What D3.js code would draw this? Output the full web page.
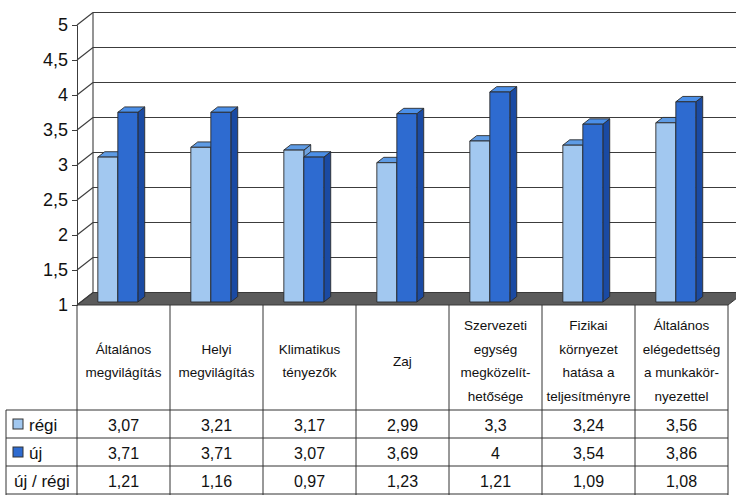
<!DOCTYPE html>
<html><head><meta charset="utf-8">
<script src="https://cdn.jsdelivr.net/npm/d3@7"></script>
<style>
html,body{margin:0;padding:0;background:#fff;}
svg{display:block;font-family:"Liberation Sans",Arial,Helvetica,sans-serif;}
</style></head>
<body><svg id="c" width="736" height="495"></svg>
<script>
const categories = [
  ["Általános","megvilágítás"],
  ["Helyi","megvilágítás"],
  ["Klimatikus","tényezők"],
  ["Zaj"],
  ["Szervezeti","egység","megközelít-","hetősége"],
  ["Fizikai","környezet","hatása a","teljesítményre"],
  ["Általános","elégedettség","a munkakör-","nyezettel"]
];
const regi  = [3.07, 3.21, 3.17, 2.99, 3.3, 3.24, 3.56];
const uj    = [3.71, 3.71, 3.07, 3.69, 4, 3.54, 3.86];
const ratio = [1.21, 1.16, 0.97, 1.23, 1.21, 1.09, 1.08];
const seriesNames = ["régi", "új"];
const rowLabels = ["régi", "új", "új / régi"];
const yTicks = [1, 1.5, 2, 2.5, 3, 3.5, 4, 4.5, 5];

(function(){
const fmt = v => String(v).replace(".", ",");
const svg = d3.select("#c");

// layout
const pLeft = 77, pRight = 728, pTop = 25, pBottom = 305;
const depthX = 16, depthY = -12.5;          // back wall offset
const barDepthStart = 0.24, barDepthEnd = 0.67;

const y = d3.scaleLinear().domain([1, 5]).range([pBottom, pTop]);
const idx = d3.range(categories.length);
const x = d3.scaleBand().domain(idx).range([pLeft, pRight]).padding(0);
const xs = d3.scaleBand().domain(seriesNames).range([0, 40]);

const colors = {
  "régi": {front:"#a2c8f0", side:"#6fa3e0", top:"#5e9be4"},
  "új":   {front:"#2e6bd0", side:"#1a4aa3", top:"#4b8fe8"}
};
const stroke = "#2a2a2a";

// floor
const fl = [[pLeft, pBottom],[pRight, pBottom],[pRight+depthX, pBottom+depthY],[pLeft+depthX, pBottom+depthY]];
svg.append("polygon").attr("points", fl.map(p=>p.join(",")).join(" "))
  .attr("fill", "#5b5b5b").attr("stroke", "#3a3a3a").attr("stroke-width", 1);

// back wall grid lines
const g = svg.append("g").attr("stroke", "#3c3c3c").attr("stroke-width", 1.1).attr("fill", "none");
yTicks.filter(t => t > 1).forEach(t => {
  g.append("line").attr("x1", pLeft+depthX).attr("x2", 736)
    .attr("y1", y(t)+depthY).attr("y2", y(t)+depthY);
});
g.append("line").attr("x1", pLeft+depthX).attr("x2", pLeft+depthX)
  .attr("y1", y(5)+depthY).attr("y2", y(1)+depthY);
yTicks.forEach(t => {
  g.append("line").attr("x1", pLeft).attr("x2", pLeft+depthX)
    .attr("y1", y(t)).attr("y2", y(t)+depthY);
});
// front axis
const axis = d3.axisLeft(y).tickValues(yTicks).tickSize(5).tickFormat(fmt);
const ax = svg.append("g").attr("transform", `translate(${pLeft},0)`).call(axis);
ax.select(".domain").attr("stroke", "#3c3c3c");
ax.selectAll(".tick line").attr("stroke", "#3c3c3c");
ax.selectAll(".tick text").attr("font-size", 18).attr("fill", "#111")
  .attr("font-family", '"Liberation Sans",Arial,sans-serif').attr("x", -9);

// bars
const bx0 = depthX*barDepthStart, by0 = depthY*barDepthStart;
const bdx = depthX*(barDepthEnd-barDepthStart), bdy = depthY*(barDepthEnd-barDepthStart);
const offset = 17;
const bars = svg.append("g");
idx.forEach(i => {
  [["régi", regi[i]], ["új", uj[i]]].forEach(([s, v]) => {
    const x0 = x(i) + offset + xs(s) + bx0;
    const x1 = x0 + xs.bandwidth();
    const yb = y(1) + by0, yt = y(v) + by0;
    const c = colors[s];
    const gg = bars.append("g").attr("stroke", stroke).attr("stroke-width", 0.9).attr("stroke-linejoin","round");
    gg.append("polygon").attr("fill", c.side)
      .attr("points", [[x1,yb],[x1+bdx,yb+bdy],[x1+bdx,yt+bdy],[x1,yt]].map(p=>p.join(",")).join(" "));
    gg.append("polygon").attr("fill", c.top)
      .attr("points", [[x0,yt],[x1,yt],[x1+bdx,yt+bdy],[x0+bdx,yt+bdy]].map(p=>p.join(",")).join(" "));
    gg.append("rect").attr("fill", c.front)
      .attr("x", x0).attr("y", yt).attr("width", x1-x0).attr("height", yb-yt);
  });
});

// table
const tbl = svg.append("g");
const rowTop = 410, rowH = 28, legLeft = 6;
const rowY = d3.range(4).map(r => rowTop + r*rowH);
const lines = tbl.append("g").attr("stroke", "#333").attr("stroke-width", 1);
idx.concat([categories.length]).forEach(i => {
  const xx = i < categories.length ? x(i) : pRight;
  lines.append("line").attr("x1", xx).attr("x2", xx).attr("y1", pBottom).attr("y2", 495);
});
rowY.forEach(yy => {
  lines.append("line").attr("x1", legLeft).attr("x2", pRight).attr("y1", yy).attr("y2", yy);
});
lines.append("line").attr("x1", legLeft).attr("x2", legLeft).attr("y1", rowTop).attr("y2", 495);

// header labels
const headCenter = 361, lineH = 23.5;
idx.forEach(i => {
  const lns = categories[i];
  const cx = x(i) + x.bandwidth()/2;
  lns.forEach((t, k) => {
    tbl.append("text").attr("x", cx)
      .attr("y", headCenter + (k - (lns.length-1)/2)*lineH)
      .attr("text-anchor", "middle").attr("dominant-baseline", "central")
      .attr("font-size", 13.5).attr("fill", "#111").text(t);
  });
});

// values
const rows = [regi, uj, ratio];
rows.forEach((arr, r) => {
  const cy = rowY[r] + rowH/2;
  arr.forEach((v, i) => {
    tbl.append("text").attr("x", x(i) + x.bandwidth()/2).attr("y", cy + 1)
      .attr("text-anchor", "middle").attr("dominant-baseline", "central")
      .attr("font-size", 16).attr("fill", "#111").text(fmt(v));
  });
  const hasKey = r < 2;
  if (hasKey) {
    tbl.append("rect").attr("x", 13).attr("y", cy - 5).attr("width", 10).attr("height", 10)
      .attr("fill", colors[seriesNames[r]].front).attr("stroke", "#333").attr("stroke-width", 1);
  }
  tbl.append("text").attr("x", hasKey ? 29 : 14).attr("y", cy + 1)
    .attr("dominant-baseline", "central").attr("font-size", 17).attr("fill", "#111")
    .text(rowLabels[r]);
});
})();
</script></body></html>
